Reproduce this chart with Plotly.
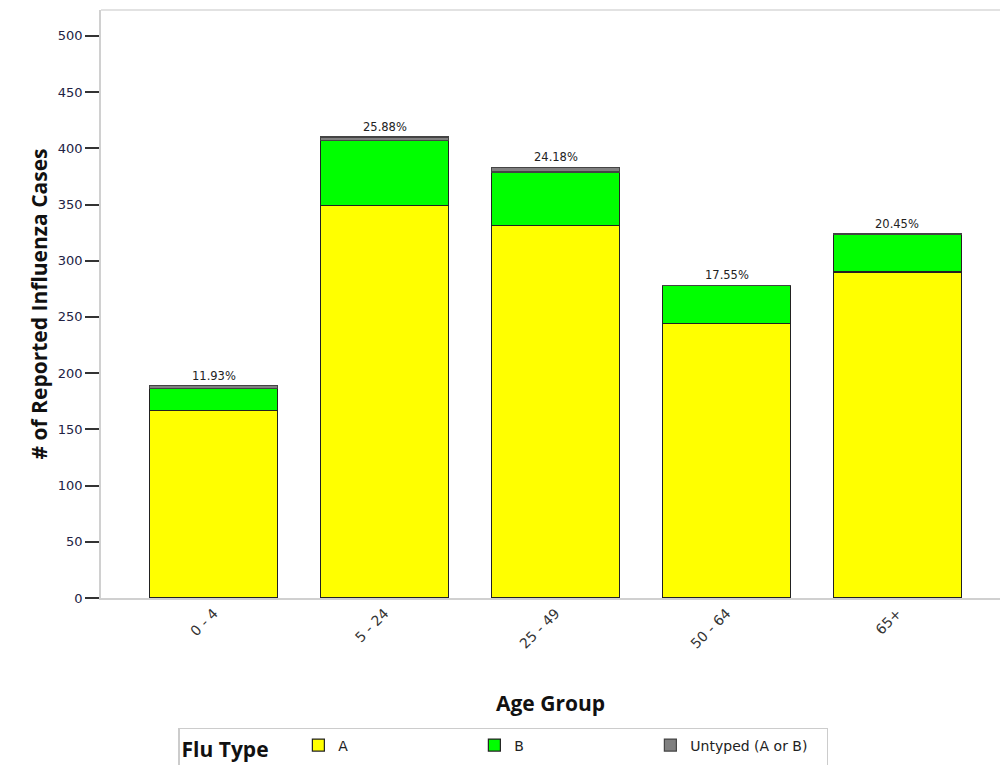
import plotly.graph_objects as go

age_groups = ["0 - 4", "5 - 24", "25 - 49", "50 - 64", "65+"]
flu_a = [167, 349, 331, 244, 290]
flu_b = [19, 58, 48, 34, 33]
untyped = [3, 3, 4, 0, 1]
y_ticks = [0, 50, 100, 150, 200, 250, 300, 350, 400, 450, 500]

totals = [a + b + u for a, b, u in zip(flu_a, flu_b, untyped)]
grand = sum(totals)
pct_labels = ["{:.2f}%".format(t / grand * 100) for t in totals]

fig = go.Figure()
series = [("A", flu_a, "#ffff00", "#222222"),
          ("B", flu_b, "#00ff00", "#222222"),
          ("Untyped (A or B)", untyped, "#808080", "#444444")]
for name, vals, col, lc in series:
    fig.add_trace(go.Bar(x=age_groups, y=vals, name=name, width=0.75,
                         marker=dict(color=col, line=dict(color=lc, width=1.2))))

for g, t, lab in zip(age_groups, totals, pct_labels):
    fig.add_annotation(x=g, y=t, text=lab, showarrow=False, yanchor="bottom", yshift=1,
                       font=dict(family="DejaVu Sans", size=11.5, color="#222222"))

fig.update_layout(
    barmode="stack",
    width=1002, height=765,
    margin=dict(l=101, r=2, t=10, b=167, autoexpand=False),
    paper_bgcolor="white", plot_bgcolor="white",
    bargap=0.25,
    xaxis=dict(range=[-0.66, 4.6], showline=True, linecolor="#d0d0d0", linewidth=1.5,
               mirror=False, ticks="", tickangle=-45, automargin=False,
               tickfont=dict(family="DejaVu Sans", size=14, color="#333333"),
               title=dict(text="<b>Age Group</b>", standoff=46,
                          font=dict(family="Open Sans", size=21, color="#111111"))),
    yaxis=dict(range=[0, 523], tickvals=y_ticks, showgrid=False, zeroline=False,
               showline=True, linecolor="#d0d0d0", linewidth=1.5, automargin=False,
               ticks="outside", ticklen=14, tickcolor="#333333", tickwidth=1.5,
               tickfont=dict(family="DejaVu Sans", size=13, color="#222244"),
               title=dict(text="<b># of Reported Influenza Cases</b>", standoff=4,
                          font=dict(family="Open Sans", size=21, color="#111111"))),
    legend=dict(orientation="h", x=0.0857, y=-0.221, xanchor="left", yanchor="top",
                bordercolor="#cccccc", borderwidth=1.5, entrywidth=131,
                title=dict(text="<b>Flu Type</b>    ", side="left",
                           font=dict(family="Open Sans", size=21, color="#111111")),
                font=dict(family="DejaVu Sans", size=14, color="#222222"),
                traceorder="normal"),
)
fig.add_shape(type="line", xref="paper", yref="paper", x0=0, x1=1, y0=1, y1=1,
              line=dict(color="#d8d8d8", width=1.5))
fig.write_html("out.html", config={"displayModeBar": False},
               post_script="document.body.style.margin='0px';document.body.style.overflow='hidden';")
